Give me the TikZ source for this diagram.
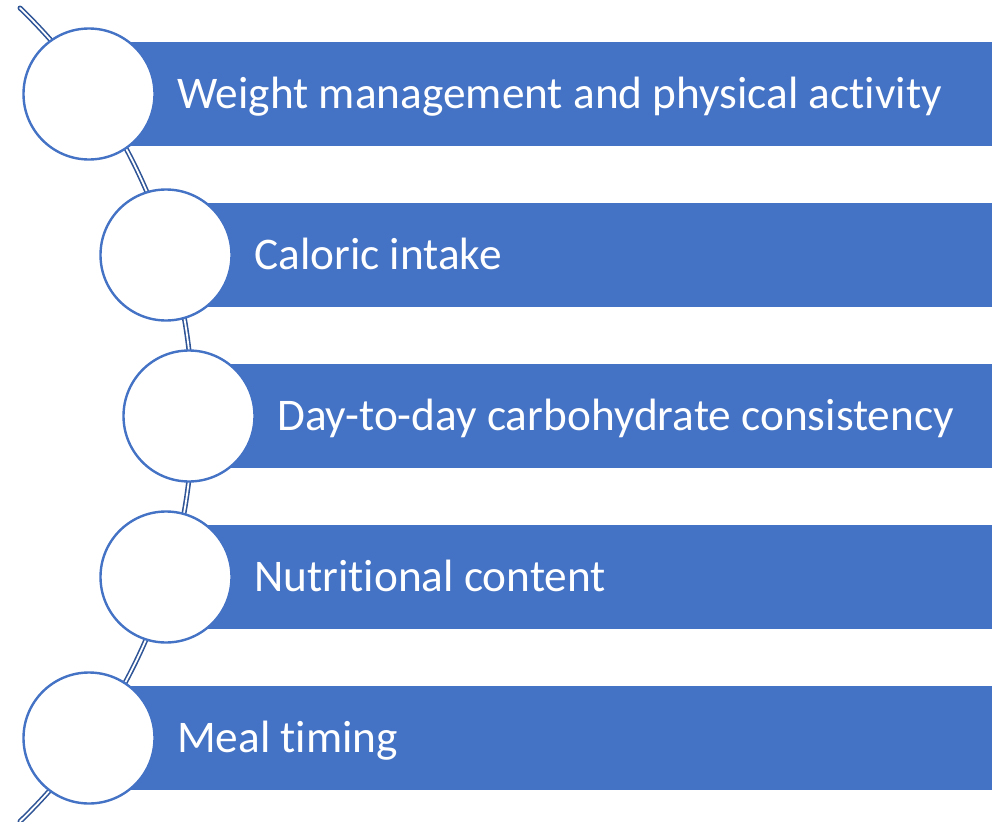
\documentclass[tikz,border=0pt]{standalone}
\usepackage{fontspec}
\setmainfont{Carlito}[Ligatures=NoCommon]
\usepackage{tikz}
\definecolor{barblue}{HTML}{4472C4}
\definecolor{spineblue}{HTML}{2F5597}
\tikzset{
  bullet/.style={circle,draw=barblue,line width=2.4pt,fill=white,inner sep=0pt,minimum size=131pt},
  lbl/.style={text=white,inner sep=0pt,font=\fontsize{45.3}{54}\selectfont},
  spine/.style={draw=spineblue,line width=1.6pt,double=white,double distance=1.8pt}
}

\begin{document}
\begin{tikzpicture}[line cap=round,line join=round,x=1pt,y=-1pt]
\useasboundingbox (0,0) rectangle (1005,822);
\draw[spine] (20,8) arc[start angle=-46,end angle=46,radius=565.4];
\foreach \i/\cx/\lab in {1/89/Weight management and physical activity,2/166/Caloric intake,3/189/Day-to-day carbohydrate consistency,4/166/Nutritional content,5/89/Meal timing}{
  \pgfmathsetmacro\cy{94+161*(\i-1)}
  \fill[barblue] (\cx,\cy-52) rectangle (992,\cy+52);
  \node[bullet] (c\i) at (\cx,\cy) {};
  \node[lbl,anchor=base west] (t\i) at (\cx+88,\cy+14) {\lab};
}
\end{tikzpicture}
\end{document}
